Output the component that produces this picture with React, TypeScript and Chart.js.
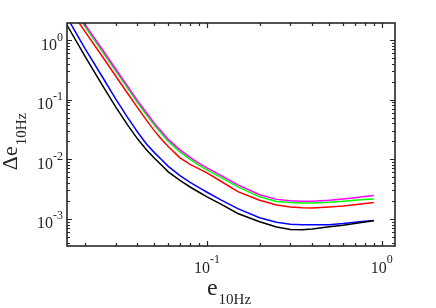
import React, { useEffect, useRef } from "react";
import { Chart, registerables } from "chart.js";

Chart.register(...registerables);

// e_10Hz sample values (x)
const eValues = [0.015, 0.016, 0.02, 0.025, 0.03, 0.035, 0.04, 0.045, 0.05, 0.055, 0.06, 0.07, 0.08, 0.09, 0.1, 0.12, 0.15, 0.2, 0.25, 0.3, 0.35, 0.4, 0.5, 0.6, 0.7, 0.8, 0.9];

// Δe_10Hz series (y)
const blackSeries = [2.35, 1.67, 0.539, 0.18, 0.0757, 0.0381, 0.022, 0.0144, 0.0104, 0.0079, 0.00615, 0.0044, 0.00342, 0.00279, 0.00234, 0.00176, 0.00123, 0.000894, 0.000728, 0.000664, 0.000657, 0.000677, 0.000738, 0.000782, 0.000834, 0.000884, 0.000929];
const blueSeries = [3.19, 2.26, 0.726, 0.249, 0.103, 0.0509, 0.0286, 0.018, 0.0129, 0.00977, 0.0076, 0.00531, 0.00408, 0.00333, 0.00279, 0.00208, 0.00148, 0.00104, 0.000875, 0.000812, 0.000796, 0.000796, 0.000796, 0.000834, 0.000877, 0.000911, 0.00094];
const redSeries = [4.92, 3.61, 1.4, 0.544, 0.249, 0.129, 0.0734, 0.0452, 0.0299, 0.0215, 0.0164, 0.01055, 0.00822, 0.0069, 0.00592, 0.00427, 0.00286, 0.00205, 0.00171, 0.00158, 0.00153, 0.00152, 0.00158, 0.00164, 0.00172, 0.0018, 0.00188];
const greenSeries = [5.83, 4.38, 1.69, 0.66, 0.303, 0.157, 0.0891, 0.0558, 0.037, 0.0267, 0.0199, 0.0133, 0.00996, 0.00791, 0.00665, 0.00497, 0.00344, 0.00234, 0.00195, 0.00188, 0.00184, 0.00184, 0.0019, 0.00197, 0.00205, 0.0021, 0.00215];
const magentaSeries = [6.3, 4.73, 1.83, 0.713, 0.327, 0.17, 0.0962, 0.0603, 0.0399, 0.0288, 0.0215, 0.01437, 0.01076, 0.00854, 0.00718, 0.00537, 0.00372, 0.00253, 0.00212, 0.00201, 0.00197, 0.00197, 0.00205, 0.00215, 0.00226, 0.00237, 0.00247];

// axis limits
const xLimits = [0.0158, 1.19];
const yLimits = [0.00035, 1.93];

// tick labels (major ticks, as powers of ten)
const xMajorTicks = [0.1, 1];
const xTickExponents = ["-1", "0"];
const yMajorTicks = [0.001, 0.01, 0.1, 1];
const yTickExponents = ["-3", "-2", "-1", "0"];
const tickBase = "10";

const xTitleMain = "e";
const yTitleMain = "Δe";
const titleSub = "10Hz";

const FONT = "'Liberation Serif', 'Times New Roman', serif";
const AXIS_COLOR = "#262626";

function minorTicks(lo: number, hi: number): number[] {
  const out: number[] = [];
  for (let d = Math.floor(Math.log10(lo)); d <= Math.ceil(Math.log10(hi)); d++) {
    for (let m = 1; m <= 9; m++) {
      const v = m * Math.pow(10, d);
      if (v >= lo && v <= hi) out.push(v);
    }
  }
  return out;
}

const axesPlugin = {
  id: "matlabAxes",
  afterDatasetsDraw(chart: any) {
    const { ctx, chartArea: a, scales } = chart;
    const xs = scales.x;
    const ys = scales.y;
    ctx.save();
    ctx.strokeStyle = AXIS_COLOR;
    ctx.fillStyle = AXIS_COLOR;

    // ticks (inside, all four sides)
    ctx.lineWidth = 1.2;
    ctx.beginPath();
    for (const v of minorTicks(xLimits[0], xLimits[1])) {
      const px = Math.round(xs.getPixelForValue(v)) + 0.5;
      const major = xMajorTicks.some((m) => Math.abs(m - v) / m < 1e-6);
      const len = major ? 5 : 3;
      ctx.moveTo(px, a.bottom);
      ctx.lineTo(px, a.bottom - len);
      ctx.moveTo(px, a.top);
      ctx.lineTo(px, a.top + len);
    }
    for (const v of minorTicks(yLimits[0], yLimits[1])) {
      const py = Math.round(ys.getPixelForValue(v)) + 0.5;
      const major = yMajorTicks.some((m) => Math.abs(m - v) / m < 1e-6);
      const len = major ? 5 : 3;
      ctx.moveTo(a.left, py);
      ctx.lineTo(a.left + len, py);
      ctx.moveTo(a.right, py);
      ctx.lineTo(a.right - len, py);
    }
    ctx.stroke();

    // box
    ctx.lineWidth = 1.6;
    ctx.strokeRect(a.left, a.top, a.right - a.left, a.bottom - a.top);

    // tick labels
    const baseFont = `16px ${FONT}`;
    const expFont = `12px ${FONT}`;
    ctx.textAlign = "left";
    ctx.textBaseline = "alphabetic";
    const measure = (t: string, f: string) => {
      ctx.font = f;
      return ctx.measureText(t).width;
    };
    xMajorTicks.forEach((v, i) => {
      const px = xs.getPixelForValue(v);
      const wb = measure(tickBase, baseFont);
      const we = measure(xTickExponents[i], expFont);
      const x0 = px - (wb + we) / 2;
      ctx.font = baseFont;
      ctx.fillText(tickBase, x0, a.bottom + 27);
      ctx.font = expFont;
      ctx.fillText(xTickExponents[i], x0 + wb, a.bottom + 16.5);
    });
    yMajorTicks.forEach((v, i) => {
      const py = ys.getPixelForValue(v);
      const wb = measure(tickBase, baseFont);
      const we = measure(yTickExponents[i], expFont);
      const x0 = a.left - 4 - (wb + we);
      ctx.font = baseFont;
      ctx.fillText(tickBase, x0, py + 9.5);
      ctx.font = expFont;
      ctx.fillText(yTickExponents[i], x0 + wb, py + 0.5);
    });

    // x title
    const xMainFont = `24px ${FONT}`;
    const subFont = `15px ${FONT}`;
    {
      const wm = measure(xTitleMain, xMainFont);
      const ws = measure(titleSub, subFont);
      const cx = (a.left + a.right) / 2 - 2.5;
      const x0 = cx - (wm + ws) / 2;
      ctx.font = xMainFont;
      ctx.fillText(xTitleMain, x0, a.bottom + 49);
      ctx.font = subFont;
      ctx.fillText(titleSub, x0 + wm + 1, a.bottom + 58);
    }
    // y title (rotated)
    {
      const yMainFont = `22px ${FONT}`;
      const wm = measure(yTitleMain, yMainFont);
      const ws = measure(titleSub, subFont);
      ctx.save();
      ctx.translate(17, 142);
      ctx.rotate(-Math.PI / 2);
      const x0 = -(wm + ws) / 2;
      ctx.font = yMainFont;
      ctx.fillText(yTitleMain, x0, 0);
      ctx.font = subFont;
      ctx.fillText(titleSub, x0 + wm + 1, 9);
      ctx.restore();
    }
    ctx.restore();
  },
};

const seriesList = [
  { data: blackSeries, color: "#000000" },
  { data: blueSeries, color: "#0000ff" },
  { data: redSeries, color: "#ff0000" },
  { data: magentaSeries, color: "#ff00ff" },
  { data: greenSeries, color: "#00ff00" },
];

export default function App() {
  const canvasRef = useRef<HTMLCanvasElement | null>(null);

  useEffect(() => {
    if (!canvasRef.current) return;
    const chart = new Chart(canvasRef.current, {
      type: "line",
      data: {
        datasets: seriesList.map((s) => ({
          data: eValues.map((e, i) => ({ x: e, y: s.data[i] })),
          borderColor: s.color,
          backgroundColor: s.color,
          borderWidth: 1.5,
          pointRadius: 0,
          tension: 0,
          fill: false,
          clip: 0,
        })),
      },
      options: {
        animation: false,
        responsive: true,
        maintainAspectRatio: false,
        layout: { padding: { left: 67, top: 23, right: 41, bottom: 62 } },
        plugins: { legend: { display: false }, tooltip: { enabled: false } },
        events: [],
        scales: {
          x: { type: "logarithmic", min: xLimits[0], max: xLimits[1], display: false },
          y: { type: "logarithmic", min: yLimits[0], max: yLimits[1], display: false },
        },
      },
      plugins: [axesPlugin],
    });
    return () => chart.destroy();
  }, []);

  return (
    <div style={{ position: "fixed", left: 0, top: 0, width: 436, height: 308, background: "#fff" }}>
      <canvas ref={canvasRef} />
    </div>
  );
}
